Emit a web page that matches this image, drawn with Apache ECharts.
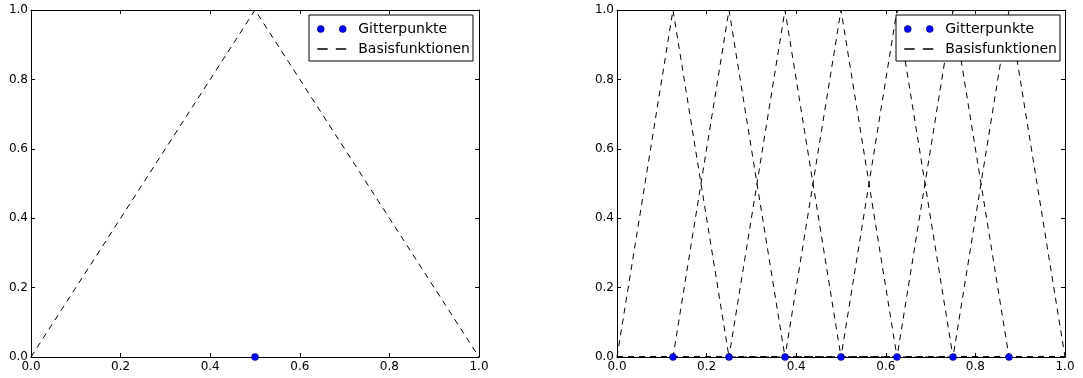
<!DOCTYPE html>
<html>
<head>
<meta charset="utf-8">
<script src="https://cdn.jsdelivr.net/npm/echarts@6/dist/echarts.min.js"></script>
<style>
  html, body { margin: 0; padding: 0; background: #fff; }
  #chart { width: 1083px; height: 378px; }
</style>
</head>
<body>
<div id="chart"></div>
<script>
// tick labels
const xTicks = ["0.0", "0.2", "0.4", "0.6", "0.8", "1.0"];
const yTicks = ["0.0", "0.2", "0.4", "0.6", "0.8", "1.0"];

// left panel: one grid point, one hat function
const leftNodes = [0.5];
const leftHatX = [0, 0.5, 1];
const leftHatY = [0, 1, 0];

// right panel: grid points at 1/8 spacing, seven hat functions
const rightNodes = [0.125, 0.25, 0.375, 0.5, 0.625, 0.75, 0.875];
const rightHatX = [0, 0.125, 0.25, 0.375, 0.5, 0.625, 0.75, 0.875, 1];
const rightHats = [
  [0, 1, 0, 0, 0, 0, 0, 0, 0],
  [0, 0, 1, 0, 0, 0, 0, 0, 0],
  [0, 0, 0, 1, 0, 0, 0, 0, 0],
  [0, 0, 0, 0, 1, 0, 0, 0, 0],
  [0, 0, 0, 0, 0, 1, 0, 0, 0],
  [0, 0, 0, 0, 0, 0, 1, 0, 0],
  [0, 0, 0, 0, 0, 0, 0, 1, 0],
];

const font = "DejaVu Sans";
const grids = [
  { left: 31, top: 10, width: 448, height: 347 },
  { left: 617, top: 10, width: 448, height: 347 },
];

function xAxes(gi) {
  const base = {
    type: "value", min: 0, max: 1, interval: 0.2, gridIndex: gi,
    splitLine: { show: false },
    axisLine: { show: true, onZero: false, lineStyle: { color: "#000", width: 1 } },
    axisTick: { show: true, inside: true, length: 4, lineStyle: { color: "#000" } },
  };
  return [
    Object.assign({}, base, {
      position: "bottom",
      axisLabel: { show: true, formatter: (v) => xTicks[Math.round(v * 5)], color: "#000",
        fontFamily: font, fontSize: 12, margin: 4 },
    }),
    Object.assign({}, base, { position: "top", axisLabel: { show: false } }),
  ];
}

function yAxes(gi) {
  const base = {
    type: "value", min: 0, max: 1, interval: 0.2, gridIndex: gi,
    splitLine: { show: false },
    axisLine: { show: true, onZero: false, lineStyle: { color: "#000", width: 1 } },
    axisTick: { show: true, inside: true, length: 4, lineStyle: { color: "#000" } },
  };
  return [
    Object.assign({}, base, {
      position: "left",
      axisLabel: { show: true, formatter: (v) => yTicks[Math.round(v * 5)], color: "#000",
        fontFamily: font, fontSize: 12, margin: 3 },
    }),
    Object.assign({}, base, { position: "right", axisLabel: { show: false } }),
  ];
}

const lineStyle = { color: "#000", width: 1, type: [6, 5] };

function hatSeries(xs, ys, xi, yi) {
  return {
    type: "line", name: "Basisfunktionen", xAxisIndex: xi, yAxisIndex: yi,
    data: xs.map((x, i) => [x, ys[i]]),
    showSymbol: false, symbol: "none", lineStyle: lineStyle,
    itemStyle: { color: "#000" }, z: 2, silent: true,
  };
}

function pointSeries(nodes, xi, yi) {
  return {
    type: "scatter", name: "Gitterpunkte", xAxisIndex: xi, yAxisIndex: yi,
    data: nodes.map((x) => [x, 0]), symbolSize: 7, clip: false,
    itemStyle: { color: "#0000ff", borderColor: "#000033", borderWidth: 0.5, opacity: 1 }, z: 5,
  };
}

const dotsIcon = "path://M0,3.5a3.5,3.5 0 1,0 7,0a3.5,3.5 0 1,0 -7,0M22,3.5a3.5,3.5 0 1,0 7,0a3.5,3.5 0 1,0 -7,0";
const dashIcon = "path://M1,0h9v1.2h-9zM17,0h9v1.2h-9z";

function legendAt(left) {
  return {
    left: left, top: 15, orient: "vertical",
    itemWidth: 29, itemHeight: 7, itemGap: 6,
    padding: [7, 3, 5, 8],
    borderColor: "#000", borderWidth: 1, backgroundColor: "#fff",
    textStyle: { fontFamily: font, fontSize: 14, color: "#000", padding: [0, 0, 0, 7] },
    data: [
      { name: "Gitterpunkte", icon: dotsIcon, itemStyle: { borderWidth: 0.5, borderColor: "#000033", opacity: 1 } },
      { name: "Basisfunktionen", icon: dashIcon, itemStyle: { color: "#000", borderWidth: 0 } },
    ],
    selectedMode: false,
  };
}

const series = [
  hatSeries(leftHatX, leftHatY, 0, 0),
  pointSeries(leftNodes, 0, 0),
];
rightHats.forEach((ys) => series.push(hatSeries(rightHatX, ys, 2, 2)));
series.push(pointSeries(rightNodes, 2, 2));

const chart = echarts.init(document.getElementById("chart"), null, { renderer: "canvas" });
chart.setOption({
  animation: false,
  backgroundColor: "#fff",
  grid: grids,
  xAxis: [...xAxes(0), ...xAxes(1)],
  yAxis: [...yAxes(0), ...yAxes(1)],
  legend: [legendAt(309), legendAt(896)],
  series: series,
});
</script>
</body>
</html>
